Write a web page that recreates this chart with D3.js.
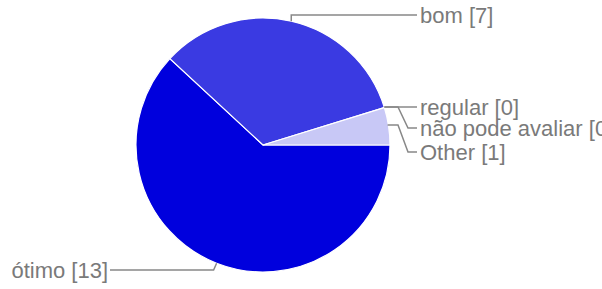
<!DOCTYPE html>
<html>
<head>
<meta charset="utf-8">
<script src="https://cdn.jsdelivr.net/npm/d3@7"></script>
<style>
  html, body { margin: 0; padding: 0; background: #fff; }
  svg { display: block; }
  text { font-family: "Liberation Sans", Arial, sans-serif; font-size: 22px; fill: #7a7a7a; }
</style>
</head>
<body>
<svg id="chart" width="602" height="289"></svg>
<script>
const categories = ["ótimo", "bom", "regular", "não pode avaliar", "Other"];
const values = [13, 7, 0, 0, 1];
const colors = ["#0000dd", "#3a3ae2", "#3a3ae2", "#3a3ae2", "#c8c8f6"];

// label layout (leader line elbows / label anchor)
const layout = {
  "ótimo":            { labelY: 270, side: "left",  x: 108 },
  "bom":              { labelY: 15,  side: "right", x: 420 },
  "regular":          { labelY: 107, side: "right", x: 420 },
  "não pode avaliar": { labelY: 128, side: "right", x: 420 },
  "Other":            { labelY: 152, side: "right", x: 420 }
};

const svg = d3.select("#chart");
const cx = 263, cy = 145, r = 127;
const g = svg.append("g").attr("transform", `translate(${cx},${cy})`);

const data = categories.map((c, i) => ({ name: c, value: values[i], color: colors[i] }));
const pie = d3.pie().value(d => d.value).sort(null)
  .startAngle(Math.PI / 2).endAngle(Math.PI / 2 + 2 * Math.PI);
const arcs = pie(data);
const arc = d3.arc().innerRadius(0).outerRadius(r);

g.selectAll("path.slice").data(arcs.filter(a => a.data.value > 0)).join("path")
  .attr("class", "slice")
  .attr("d", arc)
  .attr("fill", d => d.data.color)
  .attr("stroke", "#fff")
  .attr("stroke-width", 1.2);

// leader lines
const lines = svg.append("g").attr("fill", "none").attr("stroke", "#888").attr("stroke-width", 1.5);
function edgePoint(a) {
  const m = (a.startAngle + a.endAngle) / 2;
  return [cx + r * Math.sin(m), cy - r * Math.cos(m)];
}

arcs.forEach(a => {
  const name = a.data.name;
  const L = layout[name];
  const [px, py] = edgePoint(a);
  const p = d3.path();
  if (name === "ótimo") {
    p.moveTo(px, py); p.lineTo(px - 3, L.labelY); p.lineTo(L.x + 2, L.labelY);
  } else if (name === "bom") {
    p.moveTo(px, py); p.lineTo(px, L.labelY); p.lineTo(L.x - 3, L.labelY);
  } else if (name === "regular") {
    p.moveTo(px, L.labelY); p.lineTo(L.x - 3, L.labelY);
  } else if (name === "não pode avaliar") {
    const ry = layout["regular"].labelY;
    p.moveTo(px, ry); p.lineTo(398, ry); p.lineTo(408, L.labelY); p.lineTo(L.x - 3, L.labelY);
  } else {
    p.moveTo(px - 1, 125); p.lineTo(398, 125); p.lineTo(408, L.labelY); p.lineTo(L.x - 3, L.labelY);
  }
  lines.append("path").attr("d", p.toString());
});

svg.append("g").selectAll("text").data(arcs).join("text")
  .attr("x", d => layout[d.data.name].x)
  .attr("y", d => layout[d.data.name].labelY)
  .attr("dy", "0.36em")
  .attr("text-anchor", d => layout[d.data.name].side === "left" ? "end" : "start")
  .text(d => `${d.data.name} [${d.data.value}]`);
</script>
</body>
</html>
